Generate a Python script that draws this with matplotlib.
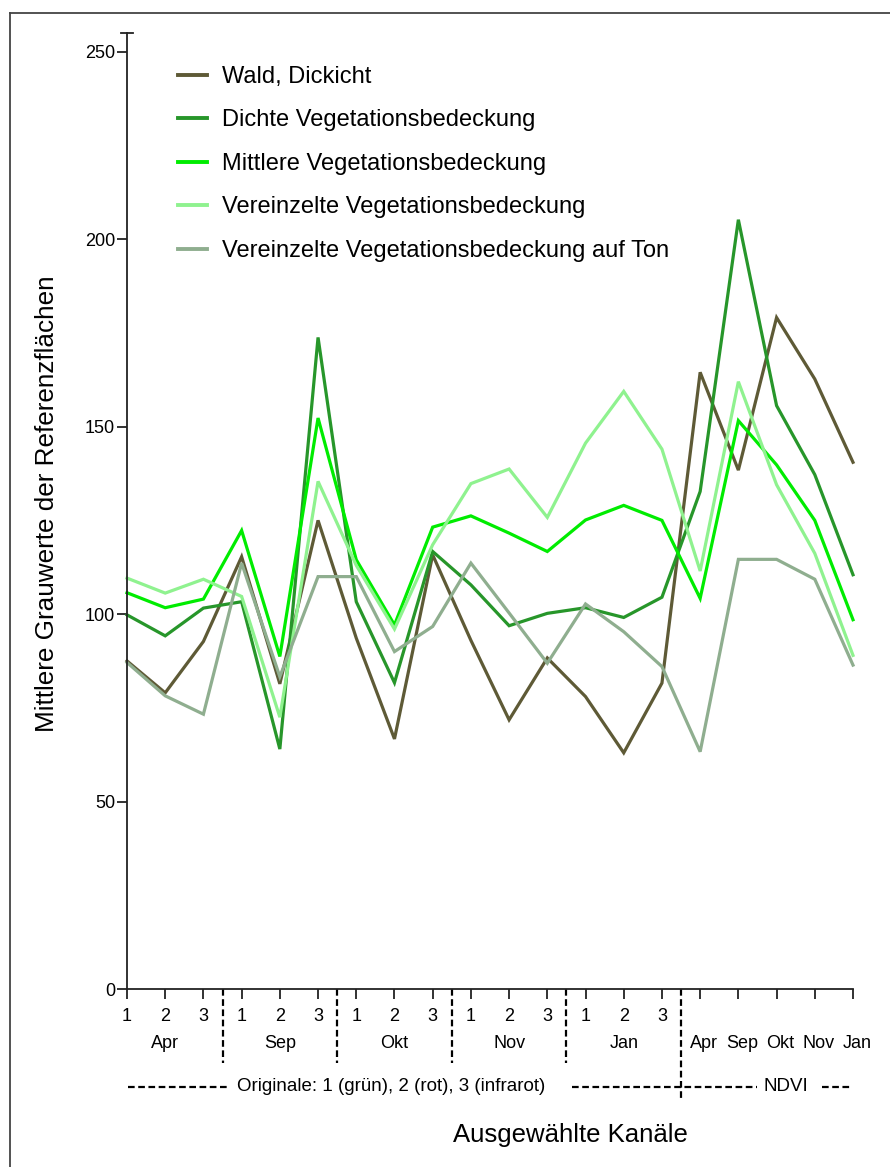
import numpy as np
import matplotlib
matplotlib.use("Agg")
import matplotlib.pyplot as plt
from matplotlib.lines import Line2D
import matplotlib.transforms as mtransforms

plt.rcParams['font.family'] = ['Liberation Sans', 'DejaVu Sans']

# channel positions: 5 dates x 3 bands, then 5 NDVI channels
band_labels = ['1', '2', '3'] * 5 + [''] * 5
months = ['Apr', 'Sep', 'Okt', 'Nov', 'Jan']
ndvi_months = ['Apr', 'Sep', 'Okt', 'Nov', 'Jan']

wald = [87.5, 79, 92.7, 115.3, 81.4, 125, 93.6, 66.7, 115.8, 93,
        71.8, 88.3, 78, 63, 81.6, 164.5, 138.4, 179.1, 162.7, 140.5]
dichte = [99.8, 94.2, 101.6, 103.3, 64, 173.8, 103.3, 81.7, 116.7, 107.8,
          96.9, 100.2, 101.7, 99.1, 104.5, 132.7, 205.2, 155.6, 137.2, 110.5]
mittlere = [105.7, 101.7, 104, 122.3, 88.7, 152.3, 114.5, 97.1, 123.2, 126.2,
            121.6, 116.7, 125.1, 129, 125, 104.2, 151.6, 139.8, 125, 98.5]
vereinzelt = [109.6, 105.6, 109.3, 104.7, 72.5, 135.4, 113, 96, 118.5, 134.8,
              138.7, 125.8, 145.6, 159.4, 144, 111.5, 162, 134.5, 116.2, 89]
ton = [87.1, 78.2, 73.3, 113.6, 83.3, 110, 110, 90, 96.7, 113.6,
       100.3, 86.9, 102.7, 95.3, 86, 63.3, 114.6, 114.6, 109.3, 86.4]

series = [
    ('Wald, Dickicht', wald, '#5e5a36'),
    ('Dichte Vegetationsbedeckung', dichte, '#27962a'),
    ('Mittlere Vegetationsbedeckung', mittlere, '#00ec00'),
    ('Vereinzelte Vegetationsbedeckung', vereinzelt, '#8ff28f'),
    ('Vereinzelte Vegetationsbedeckung auf Ton', ton, '#8fae8f'),
]

fig = plt.figure(figsize=(8.9, 11.67), dpi=100)
ax = fig.add_axes([127 / 890, 1 - 989 / 1167, 726 / 890, 956 / 1167])

x = np.arange(len(wald))
for name, vals, col in series:
    ax.plot(x, vals, color=col, lw=2.3, label=name, solid_joinstyle='miter', clip_on=False)

ax.set_xlim(0, len(x) - 1)
ax.set_ylim(0, 255)
ax.set_yticks([0, 50, 100, 150, 200, 250])
ax.set_xticks(x)
ax.set_xticklabels(band_labels)
ax.tick_params(axis='both', direction='out', length=7, width=1.3, labelsize=13, color='#222222')
ax.tick_params(axis='y', pad=1.5)
ax.tick_params(axis='x', pad=7)
for s in ['top', 'right']:
    ax.spines[s].set_visible(False)
for s in ['left', 'bottom']:
    ax.spines[s].set_linewidth(1.3)
    ax.spines[s].set_color('#222222')

# cap at the top of the y axis
ax.plot([-0.16, 0.16], [255, 255], color='#222222', lw=1.3, clip_on=False)

trans = mtransforms.blended_transform_factory(ax.transData, ax.transAxes)
dash = (0, (3, 1.6))

# month names under each band group
for i, m in enumerate(months):
    ax.text(3 * i + 1, -0.0575, m, transform=trans, ha='center', va='center', fontsize=13)
for i, m in enumerate(ndvi_months):
    ax.text(15 + i + 0.1, -0.0575, m, transform=trans, ha='center', va='center', fontsize=13)

# dashed separators between dates
for xs in [2.5, 5.5, 8.5, 11.5]:
    ax.plot([xs, xs], [0, -0.077], transform=trans, color='black', lw=1.6, ls=dash, clip_on=False)
ax.plot([14.5, 14.5], [0, -0.117], transform=trans, color='black', lw=1.6, ls=dash, clip_on=False)

# group brackets: originals and NDVI
yb = -0.1025
for x0, x1 in [(0.02, 2.64), (11.65, 16.5), (18.2, 18.95)]:
    ax.plot([x0, x1], [yb, yb], transform=trans, color='black', lw=1.6, ls=dash, clip_on=False)
ax.text(6.92, yb, 'Originale: 1 (grün), 2 (rot), 3 (infrarot)', transform=trans,
        ha='center', va='center', fontsize=13.5)
ax.text(17.24, yb, 'NDVI', transform=trans, ha='center', va='center', fontsize=13.5)

ax.set_xlabel('Ausgewählte Kanäle', fontsize=18.5)
ax.xaxis.set_label_coords(0.611, -0.153)
ax.set_ylabel('Mittlere Grauwerte der Referenzflächen', fontsize=18.8)
ax.yaxis.set_label_coords(-0.110, 0.508)
ax.xaxis.label.set_va('center')
ax.yaxis.label.set_va('center')

handles = [Line2D([0], [0], color=col, lw=2.8) for _, _, col in series]
ax.legend(handles, [s[0] for s in series], loc='upper left', bbox_to_anchor=(0.0702, 0.9655),
          frameon=False, fontsize=17, handlelength=1.23, handletextpad=0.64,
          labelspacing=0.91, borderpad=0, borderaxespad=0)

# outer frame, left and top edges
fig.add_artist(Line2D([10 / 890, 10 / 890], [0, 1 - 12.5 / 1167], transform=fig.transFigure,
                      color='#444444', lw=1.3))
fig.add_artist(Line2D([10 / 890, 1], [1 - 12.5 / 1167, 1 - 12.5 / 1167], transform=fig.transFigure,
                      color='#444444', lw=1.3))

fig.savefig('out.png', dpi=100)
